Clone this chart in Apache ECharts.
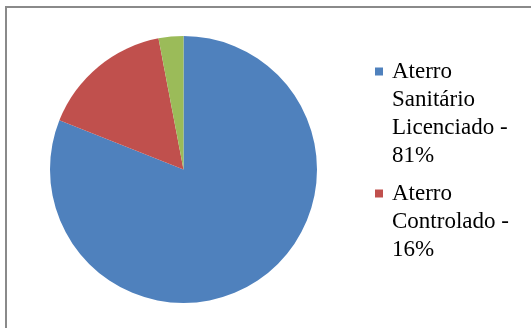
<!DOCTYPE html>
<html>
<head>
<meta charset="utf-8">
<script src="https://cdn.jsdelivr.net/npm/echarts@6/dist/echarts.min.js"></script>
<style>
  html, body { margin: 0; padding: 0; background: #fff; }
  #chart { width: 531px; height: 328px; }
</style>
</head>
<body>
<div id="chart"></div>
<script>
// Destination of waste: share by landfill type
const categories = ['Aterro Sanitário Licenciado', 'Aterro Controlado', 'Lixão'];
const shares = [81, 16, 3];
const colors = ['#4F81BD', '#C0504D', '#9BBB59'];
// Legend lines as wrapped in the legend box
const legendLines = [
  ['Aterro', 'Sanitário', 'Licenciado -', '81%'],
  ['Aterro', 'Controlado -', '16%']
];

const chart = echarts.init(document.getElementById('chart'), null, { renderer: 'canvas' });

const rich = {
  t: { fontFamily: 'Liberation Serif', fontSize: 23, color: '#000', lineHeight: 28 },
  g: { width: 17, lineHeight: 28 },
  sp: { width: 9, lineHeight: 28 }
};
colors.forEach((c, i) => {
  rich['m' + i] = { width: 8, height: 8, backgroundColor: c, lineHeight: 28 };
});

option = {
  animation: false,
  backgroundColor: '#fff',
  graphic: [{
    type: 'polyline',
    shape: { points: [[6, 340], [6, 7], [540, 7]] },
    style: { stroke: '#8a8a8a', lineWidth: 2, fill: null },
    silent: true
  }],
  legend: {
    orient: 'vertical',
    left: 370,
    top: 60,
    padding: 0,
    itemGap: 15,
    icon: 'none',
    itemWidth: 0,
    itemHeight: 14,
    data: categories.slice(0, 2),
    formatter: function (name) {
      const i = categories.indexOf(name);
      return legendLines[i].map((line, k) =>
        (k === 0 ? '{m' + i + '|}{sp|}' : '{g|}') + '{t|' + line + '}'
      ).join('\n');
    },
    textStyle: { rich: rich }
  },
  series: [{
    type: 'pie',
    center: [183.5, 169.5],
    radius: 133.5,
    startAngle: 90,
    clockwise: true,
    label: { show: false },
    labelLine: { show: false },
    itemStyle: { borderWidth: 0 },
    emphasis: { disabled: true },
    data: categories.map((name, i) => ({
      name: name,
      value: shares[i],
      itemStyle: { color: colors[i] }
    }))
  }]
};

chart.setOption(option);
</script>
</body>
</html>
